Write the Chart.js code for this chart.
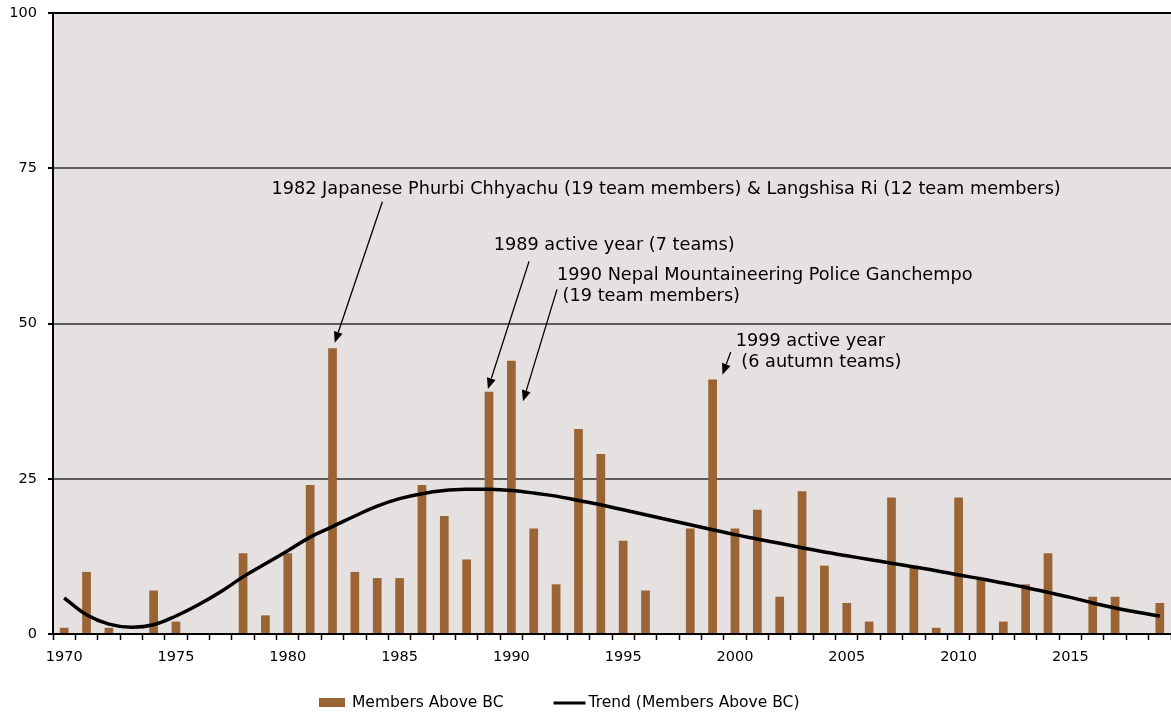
<!DOCTYPE html>
<html><head><meta charset="utf-8">
<script src="https://cdn.jsdelivr.net/npm/chart.js@4.4.1/dist/chart.umd.min.js"></script>
<style>html,body{margin:0;padding:0;background:#fff;overflow:hidden}</style>
</head><body>
<canvas id="c" width="1171" height="717"></canvas>
<script>
const years = ['1970','1971','1972','1973','1974','1975','1976','1977','1978','1979',
  '1980','1981','1982','1983','1984','1985','1986','1987','1988','1989',
  '1990','1991','1992','1993','1994','1995','1996','1997','1998','1999',
  '2000','2001','2002','2003','2004','2005','2006','2007','2008','2009',
  '2010','2011','2012','2013','2014','2015','2016','2017','2018','2019'];
const membersAboveBC = [1,10,1,0,7,2,0,0,13,3,
  13,24,46,10,9,9,24,19,12,39,
  44,17,8,33,29,15,7,0,17,41,
  17,20,6,23,11,5,2,22,11,1,
  22,9,2,8,13,0,6,6,0,5];
const trendMembersAboveBC = [5.8,3.1,1.6,1.1,1.5,2.9,4.7,6.8,9.2,11.3,
  13.4,15.6,17.3,19.0,20.6,21.8,22.6,23.1,23.3,23.3,
  23.1,22.7,22.2,21.5,20.8,20.0,19.2,18.4,17.6,16.8,
  16.0,15.3,14.6,13.9,13.2,12.6,12.0,11.4,10.8,10.2,
  9.5,8.9,8.2,7.5,6.7,5.9,5.0,4.2,3.5,2.9];
const xTickYears = ['1970','1975','1980','1985','1990','1995','2000','2005','2010','2015'];
const yTickValues = [0,25,50,75,100];
const seriesNames = ['Members Above BC','Trend (Members Above BC)'];

// annotation texts; anchors are given in axis units (category index, value)
const annotations = [
  {lines:['1982 Japanese Phurbi Chhyachu (19 team members) & Langshisa Ri (12 team members)'], tx:9.27, ty:71.6, from:[14.23,69.6], to:[12.1,46.9]},
  {lines:['1989 active year (7 teams)'], tx:19.21, ty:62.5, from:[20.79,60.0], to:[18.95,39.45]},
  {lines:['1990 Nepal Mountaineering Police Ganchempo',' (19 team members)'], tx:22.04, ty:57.8, from:[22.04,55.5], to:[20.52,37.46]},
  {lines:['1999 active year',' (6 autumn teams)'], tx:30.03, ty:47.1, from:[29.81,45.4], to:[29.44,41.75]}
];

const FONT = "'DejaVu Sans', Verdana, sans-serif";
const BAR_COLOR = '#9a6434';

const bgPlugin = {
  id:'bg',
  beforeDraw(chart){
    const {ctx, chartArea:a} = chart;
    ctx.save();
    ctx.fillStyle = '#e6e1e1';
    ctx.fillRect(a.left, a.top, a.right-a.left, a.bottom-a.top);
    ctx.restore();
  }
};

const annotPlugin = {
  id:'annot',
  afterDatasetsDraw(chart){
    const ctx = chart.ctx, xs = chart.scales.x, ys = chart.scales.y;
    ctx.save();
    ctx.fillStyle = '#000'; ctx.strokeStyle = '#000';
    ctx.font = '17.7px ' + FONT;
    ctx.textBaseline = 'middle'; ctx.textAlign = 'left';
    annotations.forEach(a => {
      const tx = xs.getPixelForValue(a.tx), ty = ys.getPixelForValue(a.ty);
      a.lines.forEach((l,i) => ctx.fillText(l, tx, ty + i*21));
      const x1 = xs.getPixelForValue(a.from[0]), y1 = ys.getPixelForValue(a.from[1]);
      const x2 = xs.getPixelForValue(a.to[0]), y2 = ys.getPixelForValue(a.to[1]);
      const ang = Math.atan2(y2-y1, x2-x1), hl = 11, hw = 4.5;
      const bx = x2 - hl*Math.cos(ang), by = y2 - hl*Math.sin(ang);
      ctx.lineWidth = 1.3;
      ctx.beginPath(); ctx.moveTo(x1,y1); ctx.lineTo(bx,by); ctx.stroke();
      ctx.beginPath();
      ctx.moveTo(x2,y2);
      ctx.lineTo(bx + hw*Math.sin(ang), by - hw*Math.cos(ang));
      ctx.lineTo(bx - hw*Math.sin(ang), by + hw*Math.cos(ang));
      ctx.closePath(); ctx.fill();
    });
    ctx.restore();
  }
};

const legendPlugin = {
  id:'customLegend',
  afterDraw(chart){
    const ctx = chart.ctx;
    ctx.save();
    ctx.font = '15.5px ' + FONT;
    ctx.textBaseline = 'middle'; ctx.textAlign = 'left';
    const y = 703;
    let x = 319;
    ctx.fillStyle = BAR_COLOR;
    ctx.fillRect(x, y-5, 26, 9);
    x += 33;
    ctx.fillStyle = '#000';
    ctx.fillText(seriesNames[0], x, y);
    x += ctx.measureText(seriesNames[0]).width + 50;
    ctx.strokeStyle = '#000'; ctx.lineWidth = 3;
    ctx.beginPath(); ctx.moveTo(x, y); ctx.lineTo(x+32, y); ctx.stroke();
    x += 35;
    ctx.fillText(seriesNames[1], x, y);
    ctx.restore();
  }
};

new Chart(document.getElementById('c'), {
  type:'bar',
  data:{
    labels: years,
    datasets:[
      {type:'line', label:seriesNames[1], data:trendMembersAboveBC, borderColor:'#000', borderWidth:3.5,
       pointRadius:0, tension:0.4, fill:false, order:0},
      {type:'bar', label:seriesNames[0], data:membersAboveBC, backgroundColor:BAR_COLOR,
       barPercentage:0.39, categoryPercentage:1, order:1}
    ]
  },
  options:{
    responsive:false, animation:false, devicePixelRatio:1,
    layout:{padding:{top:13,right:0,left:0,bottom:0}},
    plugins:{legend:{display:false}, tooltip:{enabled:false}},
    scales:{
      x:{
        offset:true,
        grid:{drawOnChartArea:false, drawTicks:true, tickLength:6, tickColor:'#000', tickWidth:1.5, offset:true},
        border:{color:'#000', width:2},
        ticks:{autoSkip:false, maxRotation:0, minRotation:0, padding:9, color:'#000',
          font:{family:FONT, size:14.5},
          callback:(v,i)=> xTickYears.includes(years[i]) ? years[i] : ''},
        afterFit:(s)=>{ s.height = 83; s.paddingLeft = 0; s.paddingRight = 0; }
      },
      y:{
        min:0, max:100,
        afterBuildTicks:(s)=>{ s.ticks = yTickValues.map(v=>({value:v})); },
        ticks:{padding:11, color:'#000', font:{family:FONT, size:14.5}},
        grid:{color:(c)=> c.tick && c.tick.value===100 ? '#000' : '#5b5b5b', lineWidth:2, tickLength:5, tickColor:'#000'},
        border:{color:'#000', width:2},
        afterFit:(s)=>{ s.width = 53; s.paddingTop = 0; s.paddingBottom = 0; }
      }
    }
  },
  plugins:[bgPlugin, annotPlugin, legendPlugin]
});
</script>
</body></html>
